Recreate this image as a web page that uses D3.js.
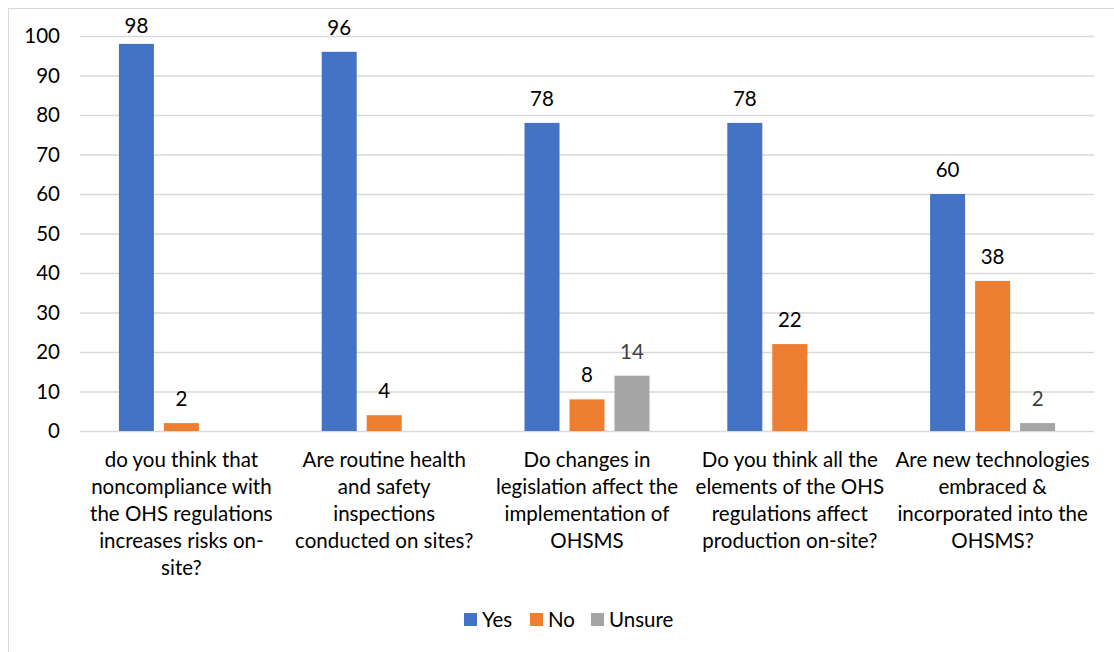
<!DOCTYPE html>
<html lang="en">
<head>
  <meta charset="UTF-8">
  <script src="https://d3js.org/d3.v7.min.js"></script>
  <title>OHS survey</title>
  <style>
    body { margin: 0; background: #fff; }
    svg text { font-family: Lato, "Open Sans", sans-serif; }
  </style>
</head>
<body>
  <script>
    // categories (each one already split into its wrapped lines)
    const categories = [
      ["do you think that", "noncompliance with", "the OHS regulations", "increases risks on-", "site?"],
      ["Are routine health", "and safety", "inspections", "conducted on sites?"],
      ["Do changes in", "legislation affect the", "implementation of", "OHSMS"],
      ["Do you think all the", "elements of the OHS", "regulations affect", "production on-site?"],
      ["Are new technologies", "embraced &", "incorporated into the", "OHSMS?"]
    ]
    const seriesNames = ["Yes", "No", "Unsure"]
    const yes = [98, 96, 78, 78, 60]
    const no = [2, 4, 8, 22, 38]
    const unsure = [null, null, 14, null, 2]
    const yTicks = [0, 10, 20, 30, 40, 50, 60, 70, 80, 90, 100]

    const colors = { Yes: "#4472C4", No: "#ED7D31", Unsure: "#A5A5A5" }
    const labelColors = { Yes: "#000", No: "#000", Unsure: "#404040" }

    /* canvas */
    const width = 1114, height = 652
    const margin = { left: 80, right: 20, top: 36, bottom: 221 }
    const fs = 20.5

    const svg = d3.select("body").append("svg")
                  .attr("width", width)
                  .attr("height", height)

    // chart border
    svg.append("rect")
      .attr("x", 8.5).attr("y", 8.5)
      .attr("width", width + 20).attr("height", height + 20)
      .attr("fill", "none").attr("stroke", "#d9d9d9")

    /* scales */
    const x0 = d3.scaleBand()
                 .domain(d3.range(categories.length))
                 .range([margin.left, width - margin.right])

    const x1 = d3.scaleBand()
                 .domain(seriesNames)
                 .range([38.9, x0.bandwidth() - 38.9])
                 .paddingInner(0.222)

    const y = d3.scaleLinear()
                .domain([0, 100])
                .range([height - margin.bottom, margin.top])

    /* gridlines + y axis */
    const yAxis = d3.axisLeft(y)
                    .tickValues(yTicks)
                    .tickSize(-(width - margin.left - margin.right))
                    .tickPadding(20)

    const gy = svg.append("g")
      .attr("transform", `translate(${margin.left},0)`)
      .call(yAxis)
    gy.select(".domain").remove()
    gy.selectAll(".tick line").attr("stroke", "#d9d9d9").attr("stroke-width", 1.3)
    gy.selectAll(".tick text").attr("font-size", fs).attr("fill", "#000")

    /* bars */
    const table = []
    categories.forEach((c, i) => {
      table.push({ cat: i, s: "Yes", v: yes[i] })
      table.push({ cat: i, s: "No", v: no[i] })
      table.push({ cat: i, s: "Unsure", v: unsure[i] })
    })
    const present = table.filter(d => d.v != null)

    svg.append("g").selectAll("rect")
      .data(present)
      .enter()
      .append("rect")
      .attr("x", d => x0(d.cat) + x1(d.s))
      .attr("y", d => y(d.v))
      .attr("width", x1.bandwidth())
      .attr("height", d => y(0) - y(d.v))
      .attr("fill", d => colors[d.s])

    // data labels
    svg.append("g").selectAll("text")
      .data(present)
      .enter()
      .append("text")
      .attr("x", d => x0(d.cat) + x1(d.s) + x1.bandwidth() / 2)
      .attr("y", d => Math.max(y(d.v) - 17, 33))
      .attr("text-anchor", "middle")
      .attr("font-size", fs)
      .attr("fill", d => labelColors[d.s])
      .text(d => d.v)

    /* category labels */
    const xl = svg.append("g")
    categories.forEach((lines, i) => {
      const t = xl.append("text")
        .attr("text-anchor", "middle")
        .attr("font-size", fs)
        .attr("fill", "#000")
      lines.forEach((ln, k) => {
        t.append("tspan")
          .attr("x", x0(i) + x0.bandwidth() / 2)
          .attr("y", 467 + k * 27)
          .text(ln)
      })
    })

    /* legend */
    const legendX = [464, 530, 591]
    const lg = svg.append("g")
    seriesNames.forEach((s, i) => {
      lg.append("rect")
        .attr("x", legendX[i]).attr("y", 613)
        .attr("width", 13).attr("height", 13)
        .attr("fill", colors[s])
      lg.append("text")
        .attr("x", legendX[i] + 18).attr("y", 627)
        .attr("font-size", fs)
        .attr("fill", "#000")
        .text(s)
    })
  </script>
</body>
</html>
